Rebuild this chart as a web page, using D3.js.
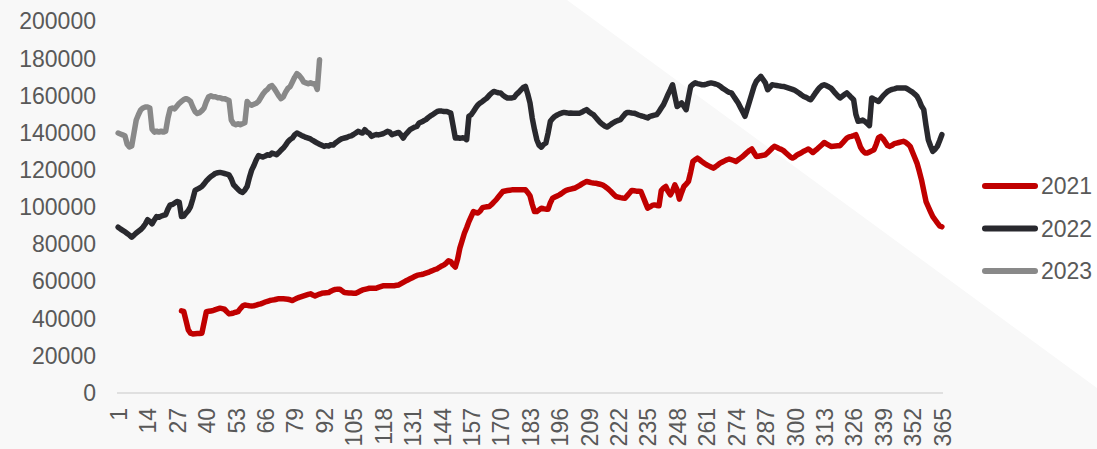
<!DOCTYPE html>
<html>
<head>
<meta charset="utf-8">
<script src="https://cdn.jsdelivr.net/npm/d3@7"></script>
<style>
  html, body { margin: 0; padding: 0; background: #ffffff; }
  svg { display: block; font-family: "Liberation Sans", Arial, sans-serif; }
</style>
</head>
<body>
<svg id="chart" width="1097" height="449"></svg>
<script>
// ---------- DATA ----------
const days = d3.range(1, 366);                 // categories 1..365
const xTickLabels = d3.range(1, 366, 13);      // 1, 14, 27, ... 365
const yTickValues = d3.range(0, 200001, 20000);
const seriesNames = ["2021", "2022", "2023"];
const start2021 = 29;                          // first day with 2021 data
const start2022 = 1;
const start2023 = 1;

const values2021 = [
  44200, 43900,
  39000, 34000, 32200, 31800, 31900, 32000, 32100, 32200, 38000, 43800,
  44000, 44200, 44400, 44900, 45300, 45700, 45400, 45100, 43800, 42600,
  42800, 43100, 43500, 43800, 45500, 46800, 47400, 47200, 47000, 46900,
  47000, 47300, 47700, 48000, 48500, 49000, 49400, 49800, 50000, 50200,
  50500, 50800, 50800, 50700, 50600, 50500, 50200, 49800, 50400, 51000,
  51500, 51900, 52300, 52700, 53100, 53400, 52800, 52300, 52800, 53300,
  53700, 53900, 54000, 54100, 54800, 55400, 55800, 55900, 55900, 55000,
  54100, 54000, 53900, 53800, 53700, 53700, 54300, 54900, 55500, 55800,
  56100, 56400, 56400, 56400, 56400, 56900, 57300, 57700, 57700, 57700,
  57700, 57700, 57800, 58000, 58200, 58900, 59600, 60300, 60900, 61500,
  62100, 62700, 63300, 63600, 63800, 64100, 64500, 64900, 65500, 66000,
  66500, 66900, 67700, 68400, 69000, 70000, 71200, 70800, 69000, 67800,
  72000, 78000, 82000, 86000, 89000, 92300, 95000, 97700, 97200, 96900,
  98000, 99800, 100100, 100300, 100400, 101500, 102800, 104000, 105500, 107000,
  108500, 108800, 109000, 109200, 109400, 109400, 109400, 109500, 109400, 109400,
  109400, 108000, 106200, 101500, 97700, 97700, 98600, 99500, 99200, 99000,
  99000, 102500, 104900, 105500, 106100, 106700, 107500, 108400, 109100, 109500,
  109800, 110100, 110400, 111100, 111800, 112600, 113300, 113900, 113600, 113300,
  113100, 113000, 112700, 112400, 112100, 111300, 110400, 109400, 108200, 106900,
  105800, 105500, 105200, 105000, 104900, 106300, 107700, 109100, 108900, 108700,
  108600, 108500, 105500, 102500, 99500, 100200, 101000, 101300, 101000, 100800,
  109000, 110400, 111200, 108600, 106700, 108800, 112100, 109500, 104400, 108000,
  111200, 112500, 113900, 119000, 124700, 125600, 126500, 125600, 124600, 123700,
  122900, 122300, 121700, 121100, 121900, 122800, 123800, 124400, 125000, 125600,
  126000, 125600, 125200, 124700, 125600, 126500, 127400, 128500, 129600, 130600,
  131400, 129400, 127400, 127500, 127800, 128000, 128300, 129400, 130600, 131800,
  132800, 132300, 131700, 131200, 130500, 129400, 128300, 127200, 126500, 127200,
  128200, 128800, 129500, 130200, 130800, 131400, 130500, 129500, 130500, 131500,
  132600, 133700, 134900, 134200, 133500, 132800, 132900, 133000, 133100, 133200,
  134500, 135900, 137200, 137900, 138200, 138600, 139100, 136000, 132500, 130500,
  129300, 129200, 129800, 130400, 131000, 134000, 137500, 138200, 137000, 135200,
  133300, 132800, 133400, 134300, 134600, 134900, 135200, 135500, 135000, 134000,
  132800, 129800, 126800, 123800, 119500, 114800, 108900, 103100, 100300, 97600,
  95000, 93300, 91600, 90000, 89500
];

const values2022 = [
  89300, 88400, 87600, 86800, 85900, 85000, 83900, 85000, 86200, 87100,
  88000, 89300, 91000, 93300, 92400, 91100, 93200, 95000, 94600, 95300,
  95700, 96000, 99000, 101300, 101500, 102300, 103100, 102800, 95000, 95300,
  96900, 98200, 100400, 104500, 109100, 109800, 110400, 111200, 112600, 114200,
  115500, 116600, 117400, 118300, 118600, 118800, 118500, 118200, 117900, 117500,
  115300, 112100, 110900, 109600, 108500, 108000, 109300, 111200, 116000, 120000,
  122500, 125500, 127800, 127400, 127100, 127600, 128300, 128000, 129200, 128800,
  128300, 129500, 130800, 131900, 133500, 135300, 136500, 137300, 139000, 140000,
  139400, 138700, 138200, 137600, 137200, 136800, 136000, 135300, 134600, 134000,
  133400, 132800, 133200, 133000, 133700, 133500, 134600, 135500, 136400, 137000,
  137300, 137600, 138200, 138500, 139200, 140000, 140900, 140400, 140000, 141800,
  140500, 139800, 138200, 138800, 139200, 139000, 139300, 139600, 140200, 140900,
  140500, 139100, 139600, 140000, 140300, 139000, 137300, 139200, 140500, 141800,
  142500, 143200, 143600, 145400, 145900, 146600, 147200, 148300, 149200, 149900,
  150800, 151600, 151900, 151800, 151600, 151600, 151200, 150700, 144000, 137300,
  137500, 137200, 137400, 137300, 136400, 149000, 149800, 151600, 153500, 155200,
  156200, 157000, 158000, 158900, 160300, 161500, 162400, 162000, 161700, 161600,
  160400, 159500, 158900, 158800, 158900, 159200, 160800, 161900, 163200, 164500,
  165100, 161000, 156200, 148000, 141800, 136400, 133500, 132400, 133800, 134600,
  140000, 146300, 147800, 149000, 149700, 150300, 150800, 151100, 150900, 150700,
  150800, 150700, 150600, 150700, 150700, 151300, 152000, 152600, 151500, 150600,
  149900, 148500, 147100, 145700, 144700, 143800, 143200, 144000, 144900, 145700,
  146300, 146800, 147200, 148800, 150300, 151100, 151000, 150800, 150700, 150200,
  149700, 149300, 149000, 148500, 148100, 149000, 149300, 149600, 149900, 151500,
  153500, 155300, 158000, 160800, 163300, 166000, 160000, 154300, 155200, 156200,
  154400, 152600, 159000, 165100, 166200, 167000, 166600, 166300, 166000, 166000,
  166300, 166700, 167000, 166700, 166400, 166000, 165200, 164200, 163400, 162600,
  161900, 161600, 159800, 158000, 156200, 153800, 151400, 149000, 153000, 157000,
  161000, 165100, 167800, 169200, 170500, 168800, 167000, 163300, 164600, 166000,
  165800, 165600, 165400, 165200, 165100, 164700, 164300, 163900, 163500, 163000,
  162200, 161400, 160500, 159700, 159200, 158500, 157900, 159500, 161300, 163000,
  164500, 165500, 166000, 165500, 164900, 164200, 162800, 161300, 160000, 158900,
  159800, 160700, 161600, 160400, 159100, 157900, 150000, 146300, 146600, 147000,
  146200, 145100, 144000, 158900, 158200, 157600, 157000, 158500, 160000, 161200,
  162400, 163000, 163500, 163800, 164200, 164200, 164300, 164200, 164200, 163600,
  162800, 162000, 161000, 159800, 157500, 154500, 152600, 144000, 136400, 133000,
  130100, 131300, 132800, 135800, 139100
];

const values2023 = [
  140000, 139500, 139000, 138500, 134000, 132500, 133000, 140000, 147000, 150000,
  152500, 153500, 154000, 154000, 153500, 142000, 140500, 141000, 140500, 141000,
  140500, 141000, 148000, 153000, 153500, 153000, 154500, 156000, 157000, 158000,
  158500, 158000, 157000, 154000, 151500, 150500, 151000, 152000, 153500, 157000,
  159500, 160000, 159500, 159500, 159000, 159000, 158500, 158500, 158000, 157500,
  147000, 145000, 144500, 145000, 144500, 145000, 145500, 157000, 155500, 155000,
  155500, 156000, 157000, 159000, 161000, 162500, 163500, 165000, 165500, 164000,
  162000, 160000, 158500, 159500, 162000, 164000, 165000, 167500, 170000, 172000,
  171000, 169500, 167500, 167000, 166500, 167000, 166500, 166500, 163500, 179500
];

const seriesColors = ["#c00000", "#29292e", "#898989"];

// ---------- CHART ----------
const W = 1097, H = 449;
const svg = d3.select("#chart");

// background: light gray with white diagonal corner at top-right
svg.append("rect").attr("width", W).attr("height", H).attr("fill", "#ffffff");
svg.append("polygon")
  .attr("points", [[0,0],[567,0],[W,388],[W,H],[0,H]].map(p => p.join(",")).join(" "))
  .attr("fill", "#f8f8f8");

const x = d3.scalePoint().domain(days).range([117, 943]).padding(0.5);
const y = d3.scaleLinear().domain([0, 200000]).range([393, 21.6]);

const textColor = "#595959";
const fontSize = "23px";

// Y axis (labels only)
const gy = svg.append("g").attr("transform", "translate(117,0)")
  .call(d3.axisLeft(y).tickValues(yTickValues).tickSize(0).tickPadding(21).tickFormat(d3.format("d")));
gy.select(".domain").remove();
gy.selectAll("text").attr("fill", textColor).style("font-size", fontSize)
  .style("font-family", '"Liberation Sans", Arial, sans-serif');

// X axis
const gx = svg.append("g").attr("transform", "translate(0,393)")
  .call(d3.axisBottom(x).tickValues(xTickLabels).tickSize(0));
gx.select(".domain").attr("stroke", "#d9d9d9").attr("stroke-width", 1.5)
  .attr("d", "M117,0H943");
gx.selectAll("text")
  .attr("fill", textColor).style("font-size", fontSize)
  .style("font-family", '"Liberation Sans", Arial, sans-serif')
  .attr("transform", "rotate(-90)")
  .attr("x", -15).attr("y", 0).attr("dy", "0.36em")
  .style("text-anchor", "end");

// Lines
const series = [
  { name: seriesNames[0], start: start2021, values: values2021, color: seriesColors[0] },
  { name: seriesNames[1], start: start2022, values: values2022, color: seriesColors[1] },
  { name: seriesNames[2], start: start2023, values: values2023, color: seriesColors[2] }
];

series.forEach(s => {
  const line = d3.line()
    .x((v, i) => x(s.start + i))
    .y(v => y(v));
  svg.append("path")
    .attr("d", line(s.values))
    .attr("fill", "none")
    .attr("stroke", s.color)
    .attr("stroke-width", 5.5)
    .attr("stroke-linejoin", "round")
    .attr("stroke-linecap", "round");
});

// Legend
const legend = svg.append("g");
series.forEach((s, i) => {
  const ly = 186 + i * 42.5;
  legend.append("line")
    .attr("x1", 985).attr("x2", 1035).attr("y1", ly).attr("y2", ly)
    .attr("stroke", s.color).attr("stroke-width", 6).attr("stroke-linecap", "round");
  legend.append("text")
    .attr("x", 1041).attr("y", ly).attr("dy", "0.35em")
    .attr("fill", textColor).style("font-size", fontSize)
    .text(s.name);
});
</script>
</body>
</html>
